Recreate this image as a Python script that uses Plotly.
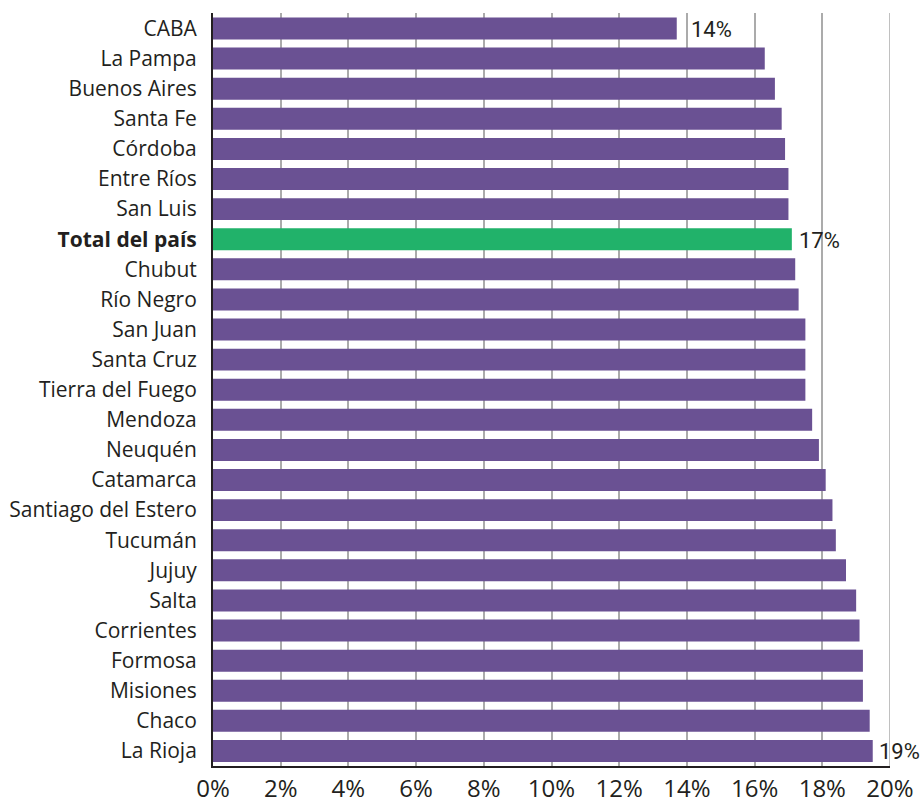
import plotly.graph_objects as go

provinces = [
    "CABA", "La Pampa", "Buenos Aires", "Santa Fe", "Córdoba", "Entre Ríos",
    "San Luis", "Total del país", "Chubut", "Río Negro", "San Juan",
    "Santa Cruz", "Tierra del Fuego", "Mendoza", "Neuquén", "Catamarca",
    "Santiago del Estero", "Tucumán", "Jujuy", "Salta", "Corrientes",
    "Formosa", "Misiones", "Chaco", "La Rioja",
]
shares = [
    13.7, 16.3, 16.6, 16.8, 16.9, 17.0,
    17.0, 17.1, 17.2, 17.3, 17.5,
    17.5, 17.5, 17.7, 17.9, 18.1,
    18.3, 18.4, 18.7, 19.0, 19.1,
    19.2, 19.2, 19.4, 19.49,
]
labelled = ["CABA", "Total del país", "La Rioja"]
x_ticks = [0, 2, 4, 6, 8, 10, 12, 14, 16, 18, 20]

TOTAL = "Total del país"
PURPLE = "#6A5193"
GREEN = "#21B26A"
INK = "#231F20"
GRID = "#ABABAB"
# the CABA label is nudged past the 14% gridline
label_shift = {"CABA": 12, "Total del país": 5, "La Rioja": 4}

colors = [GREEN if p == TOTAL else PURPLE for p in provinces]
tick_text = [f"<b>{p}</b>" if p == TOTAL else p for p in provinces]

fig = go.Figure(
    go.Bar(
        x=shares,
        y=provinces,
        orientation="h",
        marker=dict(color=colors, line=dict(width=0)),
        hoverinfo="skip",
    )
)

for p, v in zip(provinces, shares):
    if p in labelled:
        fig.add_annotation(
            x=v, y=p, text=f"{round(v)}%", showarrow=False,
            xanchor="left", yanchor="middle", xshift=label_shift[p], yshift=-1,
            font=dict(family="Roboto", size=22, color=INK),
        )

# right-hand border of the grid at the 20% mark
fig.add_shape(
    type="line", xref="x", yref="paper", x0=20, x1=20, y0=0, y1=1,
    line=dict(color=GRID, width=1.5), layer="below",
)

fig.update_layout(
    width=921, height=804,
    margin=dict(l=213, r=31, t=13, b=38, autoexpand=False),
    paper_bgcolor="white", plot_bgcolor="white",
    bargap=0.27,
    showlegend=False,
    font=dict(family="Open Sans, sans-serif", color=INK),
)
fig.update_xaxes(
    range=[0, 20],
    tickvals=x_ticks,
    ticktext=[f"{t}%" for t in x_ticks],
    tickfont=dict(size=24, color=INK),
    ticklabelstandoff=0,
    automargin=False,
    showgrid=True, gridcolor=GRID, gridwidth=1.5,
    showline=True, linecolor=INK, linewidth=2,
    zeroline=False, ticks="", ticklen=0,
)
fig.update_yaxes(
    categoryorder="array", categoryarray=provinces,
    tickvals=provinces, ticktext=tick_text,
    autorange="reversed",
    tickfont=dict(size=21, color=INK),
    ticklabelstandoff=10,
    automargin=False,
    showline=True, linecolor=INK, linewidth=2,
    showgrid=False, zeroline=False, ticks="", ticklen=0,
)

fig.write_html("out.html")
